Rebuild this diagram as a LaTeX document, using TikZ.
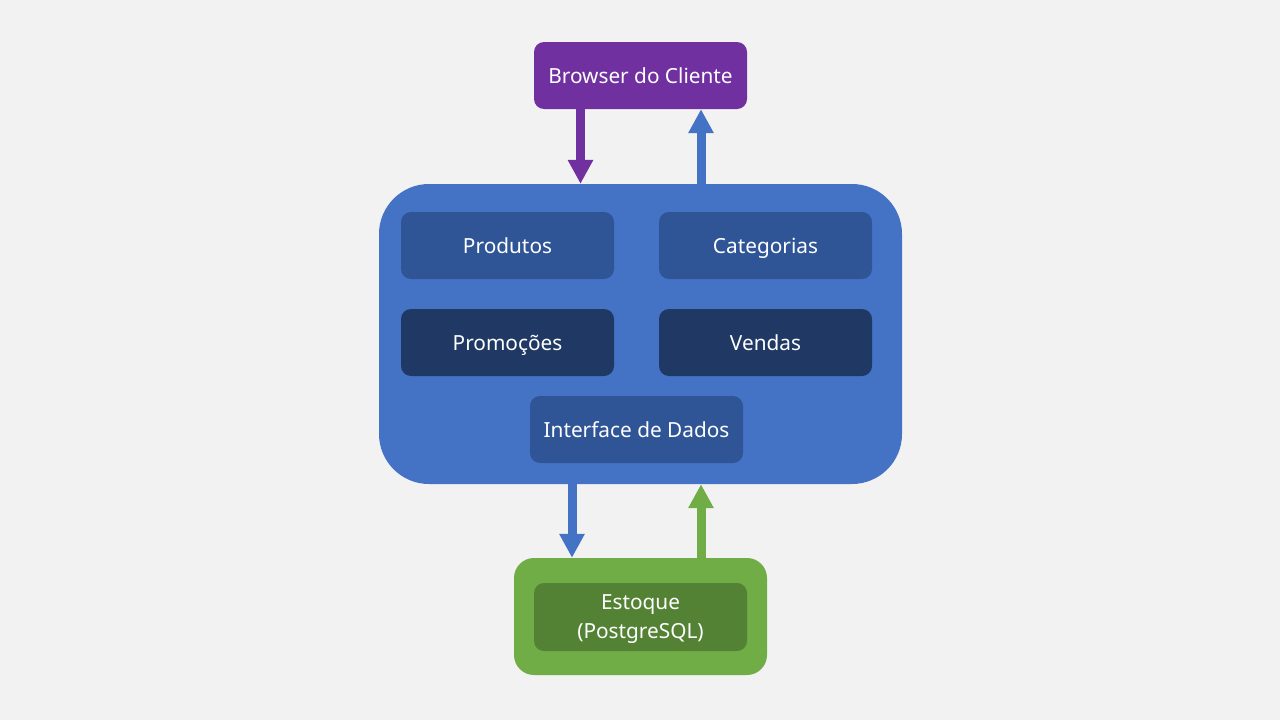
\documentclass[tikz,border=0pt]{standalone}
\usepackage{fontspec}
\setmainfont{Noto Sans}
\usetikzlibrary{arrows.meta}
\definecolor{bg}{HTML}{F2F2F2}
\definecolor{purp}{HTML}{7030A0}
\definecolor{blue1}{HTML}{4472C4}
\definecolor{blue2}{HTML}{2F5597}
\definecolor{blue3}{HTML}{1F3864}
\definecolor{green1}{HTML}{70AD47}
\definecolor{green2}{HTML}{548235}
\tikzset{
  box/.style={rounded corners=10pt, minimum width=213pt, minimum height=67pt, inner sep=0pt, text=white, font=\fontsize{20.8}{29}\selectfont, align=center, text height=17pt, text depth=1pt},
  conn/.style={line width=9pt, -{Triangle[width=24pt,length=24pt]}},
}
\begin{document}
\begin{tikzpicture}[x=1pt,y=-1pt]
\fill[bg] (0,0) rectangle (1280,720);
\useasboundingbox (0,0) rectangle (1280,720);
% main container
\node[fill=blue1, rounded corners=50pt, minimum width=523pt, minimum height=300pt, inner sep=0pt] (main) at (640.5,334) {};
\node[box, fill=purp] (browser) at (640.5,75.5) {Browser do Cliente};
\node[box, fill=blue2] (produtos) at (507.5,245.5) {Produtos};
\node[box, fill=blue2] (categorias) at (765.5,245.5) {Categorias};
\node[box, fill=blue3] (promocoes) at (507.5,342.5) {Promoções};
\node[box, fill=blue3] (vendas) at (765.5,342.5) {Vendas};
\node[box, fill=blue2] (interface) at (636.5,429.5) {Interface de Dados};
% storage
\node[fill=green1, rounded corners=20pt, minimum width=253pt, minimum height=117pt, inner sep=0pt] (estoqueouter) at (640.5,616.5) {};
\node[box, fill=green2, minimum height=68pt, text height=, text depth=] (estoque) at (640.5,617) {\rule{0pt}{19pt}Estoque\\(PostgreSQL)};
% connectors
\draw[conn, purp] (browser.south -| 580.5,0) -- (main.north -| 580.5,0);
\draw[conn, blue1] (main.north -| 701,0) -- (browser.south -| 701,0);
\draw[conn, blue1] (main.south -| 572,0) -- (estoqueouter.north -| 572,0);
\draw[conn, green1] (estoqueouter.north -| 701,0) -- (main.south -| 701,0);
\end{tikzpicture}
\end{document}
